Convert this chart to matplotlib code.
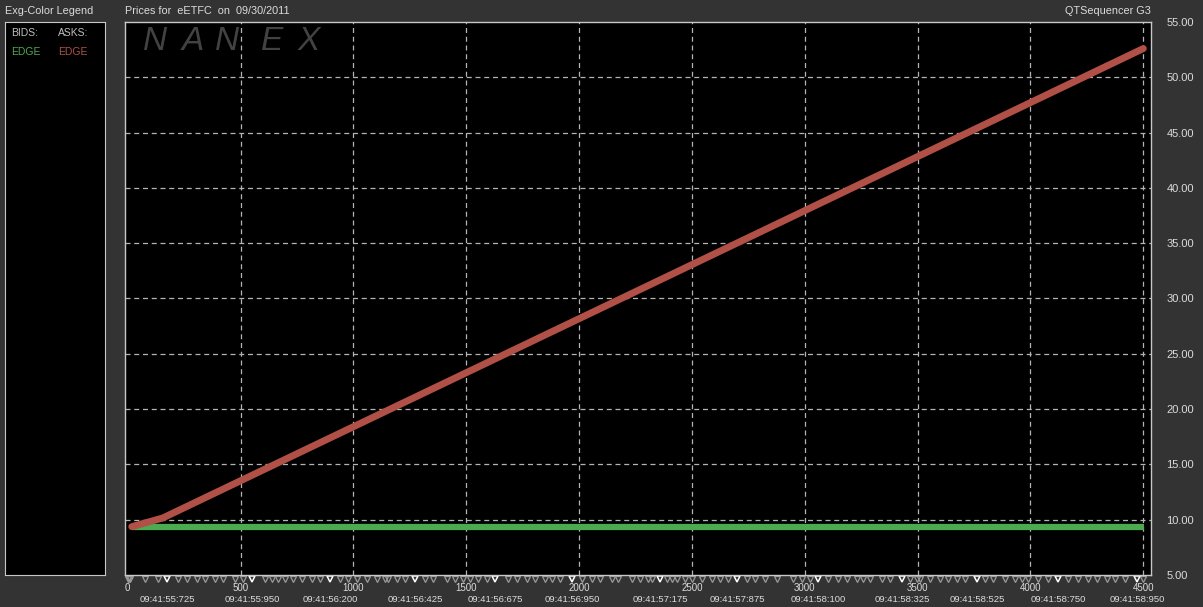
import numpy as np
import matplotlib
matplotlib.use("Agg")
import matplotlib.pyplot as plt
import matplotlib.transforms as mtransforms

# datos
ask_x = [18, 156, 4500]
ask_y = [9.37, 10.16, 52.6]
bid_x = [18, 4505]
bid_y = [9.3, 9.3]

x_ticks = [0, 500, 1000, 1500, 2000, 2500, 3000, 3500, 4000, 4500]
y_ticks = [5, 10, 15, 20, 25, 30, 35, 40, 45, 50, 55]

# marcas de operaciones (gris) y marcas con hora (blanco)
trades = [0, 5, 10, 77, 134, 223, 263, 307, 343, 387, 422, 475, 511, 608, 639, 666,
          697, 732, 772, 817, 852, 941, 976, 1016, 1060, 1105, 1140, 1153, 1193, 1229,
          1317, 1353, 1415, 1450, 1486, 1517, 1552, 1592, 1685, 1725, 1769, 1805, 1849,
          1880, 1916, 2013, 2057, 2093, 2146, 2173, 2235, 2270, 2305, 2323, 2390, 2412,
          2434, 2469, 2500, 2545, 2589, 2624, 2660, 2744, 2780, 2824, 2877, 2948, 2988,
          3023, 3103, 3147, 3187, 3231, 3258, 3289, 3342, 3378, 3466, 3497, 3511, 3555,
          3599, 3635, 3675, 3710, 3799, 3834, 3887, 3931, 3963, 3989, 4034, 4078, 4166,
          4211, 4255, 4295, 4339, 4375, 4419, 4499]
time_x = [174, 551, 896, 1273, 1627, 1969, 2359, 2700, 3058, 3431, 3763, 4122, 4472]
time_labels = ["09:41:55:725", "09:41:55:950", "09:41:56:200", "09:41:56:425",
               "09:41:56:675", "09:41:56:950", "09:41:57:175", "09:41:57:875",
               "09:41:58:100", "09:41:58:325", "09:41:58:525", "09:41:58:750",
               "09:41:58:950"]

bg = '#333333'
txt = '#dcdcdc'
grid_c = '#b4b4b4'
green = '#4caa50'
red = '#b05046'
plt.rcParams['font.family'] = ['Liberation Sans', 'DejaVu Sans']

W, H = 1203, 607
fig = plt.figure(figsize=(W / 100, H / 100), dpi=100, facecolor=bg)

# panel de leyenda
lax = fig.add_axes([5 / W, 32 / H, 100 / W, 553 / H], facecolor='black')
lax.set_xticks([])
lax.set_yticks([])
for s in lax.spines.values():
    s.set_color('#c8c8c8')
lax.set_xlim(0, 100)
lax.set_ylim(553, 0)
lax.text(6, 11, 'BIDS:', color='#bebebe', fontsize=7.5, va='center')
lax.text(53, 11, 'ASKS:', color='#bebebe', fontsize=7.5, va='center')
lax.text(6, 30, 'EDGE', color=green, fontsize=7.5, va='center')
lax.text(53, 30, 'EDGE', color=red, fontsize=7.5, va='center')

# grafica principal
ax = fig.add_axes([125 / W, 32 / H, 1026 / W, 553 / H], facecolor='black')
ax.set_xlim(-12, 4534)
ax.set_ylim(5, 55)
for s in ax.spines.values():
    s.set_color('#c8c8c8')
    s.set_linewidth(1)

for xv in x_ticks[1:]:
    ax.axvline(xv, color=grid_c, lw=0.9, ls=(0, (4, 3)), zorder=1)
for yv in y_ticks[1:-1]:
    ax.axhline(yv, color=grid_c, lw=0.9, ls=(0, (4, 3)), zorder=1)

# marca de agua
for letra, px in zip("NANEX", [155, 193, 227, 272, 309]):
    fig.text(px / W, 1 - 42 / H, letra, color='#424242', fontsize=24,
             style='italic', ha='center', va='center', zorder=0)

ax.plot(bid_x, bid_y, color=green, lw=4.5, solid_capstyle='butt', zorder=3)
ax.plot(ask_x, ask_y, color=red, lw=5, solid_capstyle='round', zorder=4)

ax.yaxis.tick_right()
ax.set_yticks(y_ticks)
ax.set_yticklabels(['%.2f' % v for v in y_ticks])
ax.tick_params(axis='y', length=0, pad=11, colors=txt, labelsize=8)
for lbl in ax.get_yticklabels():
    lbl.set_horizontalalignment('left')

ax.set_xticks(x_ticks)
ax.set_xticklabels([str(v) for v in x_ticks])
ax.tick_params(axis='x', length=0, pad=6, colors=txt, labelsize=7)

trans = mtransforms.blended_transform_factory(ax.transData, ax.transAxes)
ax.plot(trades, [-0.007] * len(trades), ls='none', marker='v', ms=5,
        mfc='none', mec='#9a9a9a', mew=0.9, transform=trans, clip_on=False)
ax.plot(time_x, [-0.007] * len(time_x), ls='none', marker='v', ms=5,
        mfc='none', mec='white', mew=1.1, transform=trans, clip_on=False)

for xv, t in zip(time_x, time_labels):
    ax.text(xv, -0.037, t, transform=trans, color=txt, fontsize=6.8,
            ha='center', va='top')

fig.text(5 / W, 1 - 11 / H, 'Exg-Color Legend', color=txt, fontsize=7.8, va='center')
fig.text(125 / W, 1 - 11 / H, 'Prices for  eETFC  on  09/30/2011', color=txt,
         fontsize=7.8, va='center')
fig.text(1151 / W, 1 - 11 / H, 'QTSequencer G3', color=txt, fontsize=7.8,
         va='center', ha='right')

fig.savefig('out.png', dpi=100, facecolor=bg)
